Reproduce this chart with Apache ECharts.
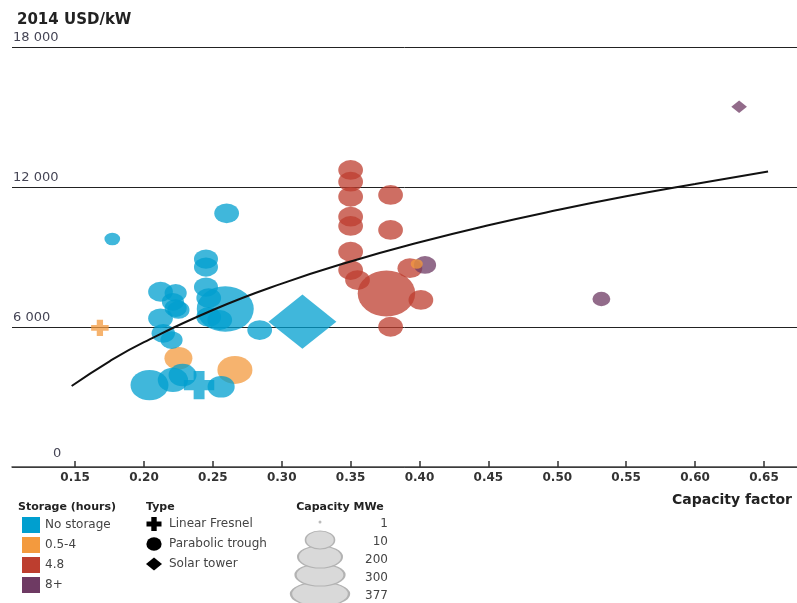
<!DOCTYPE html>
<html>
<head>
<meta charset="utf-8">
<script src="https://cdn.jsdelivr.net/npm/echarts/dist/echarts.min.js"></script>
<style>
  html, body { margin: 0; padding: 0; background: #fff; }
  #chart { width: 797px; height: 603px; }
</style>
</head>
<body>
<div id="chart"></div>
<script>
// [capacity factor, cost 2014 USD/kW, capacity MWe, plant type]
const noStorage = [
  [0.177, 9770, 20, 'trough'],
  [0.260, 10870, 50, 'trough'],
  [0.245, 8910, 47, 'trough'],
  [0.245, 8570, 47, 'trough'],
  [0.245, 7710, 47, 'trough'],
  [0.247, 7240, 50, 'trough'],
  [0.247, 6430, 50, 'trough'],
  [0.255, 6300, 50, 'trough'],
  [0.259, 6770, 265, 'trough'],
  [0.212, 7510, 50, 'trough'],
  [0.223, 7460, 40, 'trough'],
  [0.223, 6810, 40, 'trough'],
  [0.221, 7080, 40, 'trough'],
  [0.225, 6730, 40, 'trough'],
  [0.212, 6370, 50, 'trough'],
  [0.214, 5730, 45, 'trough'],
  [0.220, 5440, 40, 'trough'],
  [0.284, 5870, 50, 'trough'],
  [0.204, 3510, 118, 'trough'],
  [0.221, 3730, 75, 'trough'],
  [0.228, 3940, 64, 'trough'],
  [0.256, 3440, 60, 'trough'],
  [0.240, 3510, 75, 'fresnel'],
  [0.315, 6230, 377, 'tower']
];
const storage05to4 = [
  [0.168, 5960, 25, 'fresnel'],
  [0.225, 4660, 64, 'trough'],
  [0.266, 4160, 100, 'trough'],
  [0.398, 8700, 12, 'trough']
];
const storage48 = [
  [0.350, 12730, 50, 'trough'],
  [0.350, 12230, 50, 'trough'],
  [0.350, 11580, 50, 'trough'],
  [0.350, 10730, 50, 'trough'],
  [0.350, 10330, 50, 'trough'],
  [0.350, 9230, 50, 'trough'],
  [0.350, 8440, 50, 'trough'],
  [0.355, 8010, 50, 'trough'],
  [0.379, 11660, 50, 'trough'],
  [0.379, 10160, 50, 'trough'],
  [0.376, 7440, 270, 'trough'],
  [0.393, 8520, 50, 'trough'],
  [0.401, 7160, 50, 'trough'],
  [0.379, 6010, 50, 'trough']
];
const storage8plus = [
  [0.404, 8660, 40, 'trough'],
  [0.532, 7200, 26, 'trough'],
  [0.632, 15440, 20, 'tower']
];

// trend curve
const trendX = [0.1475, 0.175, 0.20, 0.25, 0.30, 0.35, 0.40, 0.45, 0.50, 0.55, 0.60, 0.653];
const trendY = [3470, 4530, 5350, 6730, 7860, 8810, 9630, 10360, 11010, 11600, 12130, 12660];

const xTicks = [0.15, 0.20, 0.25, 0.30, 0.35, 0.40, 0.45, 0.50, 0.55, 0.60, 0.65];
const storageNames = ['No storage', '0.5-4', '4.8', '8+'];
const typeNames = ['Linear Fresnel', 'Parabolic trough', 'Solar tower'];
const capacityLegend = [1, 10, 200, 300, 377];

const FONT = 'DejaVu Sans';
const colors = { 'No storage': '#009fcf', '0.5-4': '#f39a3e', '4.8': '#bd3e2f', '8+': '#6e3a63' };
const crossPath = 'path://M32,0H68V32H100V68H68V100H32V68H0V32H32Z';

function symbolFor(v) {
  if (v[3] === 'fresnel') return crossPath;
  if (v[3] === 'tower') return 'diamond';
  return 'circle';
}
function sizeFor(v) {
  const w = 3.5 * Math.sqrt(v[2]);
  return v[3] === 'fresnel' ? [w, w * 0.93] : [w, w * 0.8];
}
function scatter(name, data) {
  return {
    name: name,
    type: 'scatter',
    data: data,
    symbol: symbolFor,
    symbolSize: sizeFor,
    itemStyle: { color: colors[name], opacity: 0.75 },
    emphasis: { disabled: true },
    silent: true
  };
}
function spaced(v) {
  return String(v).replace(/\B(?=(\d{3})+(?!\d))/g, ' ');
}
function text(x, y, s, font, color, align) {
  return {
    type: 'text', x: x, y: y, silent: true,
    style: { text: s, font: font, fill: color, align: align || 'left', verticalAlign: 'middle',
             textAlign: align || 'left', textVerticalAlign: 'middle' }
  };
}

const graphics = [];
// legend headers
graphics.push(text(18, 507, 'Storage (hours)', 'bold 11px ' + FONT, '#222'));
graphics.push(text(146, 507, 'Type', 'bold 11px ' + FONT, '#222'));
graphics.push(text(340, 507, 'Capacity MWe', 'bold 11px ' + FONT, '#222', 'center'));
// type legend
const tRows = [524, 544, 564];
const cx = 154;
graphics.push({ type: 'polygon', silent: true, shape: { points: [
  [cx - 2.7, tRows[0] - 7], [cx + 2.7, tRows[0] - 7], [cx + 2.7, tRows[0] - 2.5], [cx + 7.5, tRows[0] - 2.5],
  [cx + 7.5, tRows[0] + 2.5], [cx + 2.7, tRows[0] + 2.5], [cx + 2.7, tRows[0] + 7], [cx - 2.7, tRows[0] + 7],
  [cx - 2.7, tRows[0] + 2.5], [cx - 7.5, tRows[0] + 2.5], [cx - 7.5, tRows[0] - 2.5], [cx - 2.7, tRows[0] - 2.5]
] }, style: { fill: '#000' } });
graphics.push({ type: 'circle', silent: true, x: cx, y: tRows[1], scaleX: 1.12, shape: { cx: 0, cy: 0, r: 6.8 }, style: { fill: '#000' } });
graphics.push({ type: 'polygon', silent: true, shape: { points: [
  [cx - 8, tRows[2]], [cx, tRows[2] - 6.5], [cx + 8, tRows[2]], [cx, tRows[2] + 6.5]
] }, style: { fill: '#000' } });
typeNames.forEach(function (n, i) {
  graphics.push(text(169, tRows[i], n, '12px ' + FONT, '#444'));
});
// capacity legend (stacked keys, largest drawn first)
const capKeys = [
  { cy: 594, rx: 29, ry: 12 },
  { cy: 575, rx: 24.5, ry: 11 },
  { cy: 557, rx: 22, ry: 11 },
  { cy: 540, rx: 14.5, ry: 9 }
];
capKeys.forEach(function (k) {
  graphics.push({ type: 'circle', silent: true, x: 320, y: k.cy, scaleX: k.rx / k.ry,
    shape: { cx: 0, cy: 0, r: k.ry }, style: { fill: '#d9d9d9', stroke: '#b3b3b3', lineWidth: 1 } });
});
graphics.push({ type: 'circle', silent: true, shape: { cx: 320, cy: 522, r: 1.5 }, style: { fill: '#bbb' } });
const capRows = [524, 542, 560, 578, 596];
capacityLegend.forEach(function (c, i) {
  graphics.push(text(388, capRows[i], String(c), '12px ' + FONT, '#444', 'right'));
});

const chart = echarts.init(document.getElementById('chart'));
chart.setOption({
  animation: false,
  backgroundColor: '#fff',
  textStyle: { fontFamily: FONT },
  title: [
    { text: '2014 USD/kW', left: 12, top: 8,
      textStyle: { fontFamily: FONT, fontWeight: 'bold', fontSize: 15, color: '#222' } },
    { text: 'Capacity factor', right: 0, top: 488,
      textStyle: { fontFamily: FONT, fontWeight: 'bold', fontSize: 14, color: '#222' } }
  ],
  legend: {
    orient: 'vertical', left: 17, top: 512,
    itemWidth: 18, itemHeight: 16, itemGap: 4, icon: 'rect',
    selectedMode: false,
    data: storageNames.map(function (n) { return { name: n, itemStyle: { color: colors[n], opacity: 1 } }; }),
    textStyle: { fontFamily: FONT, fontSize: 12, color: '#444' }
  },
  grid: { left: 12, right: 0, top: 47, bottom: 136 },
  xAxis: {
    type: 'value', min: 0.1042, max: 0.674,
    axisLine: { show: true, lineStyle: { color: '#444', width: 1.5 } },
    axisTick: { show: true, inside: true, length: 6, customValues: xTicks, lineStyle: { color: '#333', width: 1.5 } },
    axisLabel: { customValues: xTicks, margin: 5, fontFamily: FONT, fontWeight: 'bold', fontSize: 12, color: '#333',
      formatter: function (v) { return v.toFixed(2); } },
    splitLine: { show: false }
  },
  yAxis: {
    type: 'value', min: 0, max: 18000, interval: 6000,
    axisLine: { show: false },
    axisTick: { show: false },
    splitLine: { show: true, lineStyle: { color: '#222', width: 1 } },
    axisLabel: {
      inside: true, margin: 1, verticalAlign: 'bottom',
      formatter: function (v) { return v === 0 ? '{z|0}' : '{n|' + spaced(v) + '}'; },
      rich: {
        n: { fontFamily: FONT, fontSize: 13, color: '#454555', padding: [0, 0, 3, 0] },
        z: { fontFamily: FONT, fontSize: 13, color: '#454555', padding: [0, 0, 7, 40] }
      }
    }
  },
  series: [
    scatter('4.8', storage48),
    scatter('8+', storage8plus),
    scatter('0.5-4', storage05to4),
    scatter('No storage', noStorage),
    {
      type: 'line', silent: true, smooth: true, showSymbol: false, z: 5,
      data: trendX.map(function (x, i) { return [x, trendY[i]]; }),
      lineStyle: { color: '#111', width: 2 }
    }
  ],
  graphic: graphics
});
window.addEventListener('resize', function () { chart.resize(); });
</script>
</body>
</html>
